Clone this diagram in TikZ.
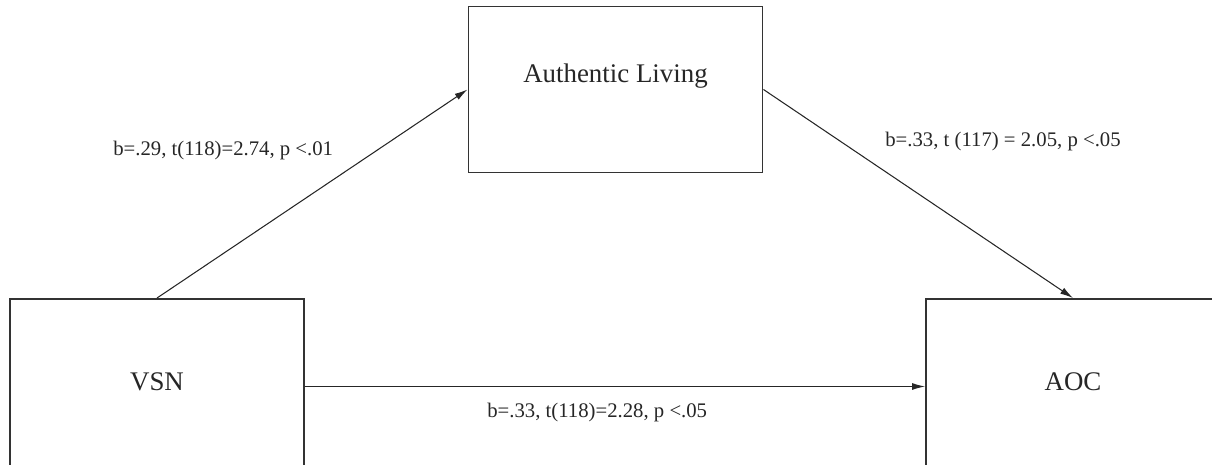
\documentclass[tikz,border=0pt]{standalone}
\usepackage{fontspec}
\setmainfont{Liberation Serif}
\usepackage{xcolor}
\usetikzlibrary{arrows.meta,positioning}

\begin{document}
\begin{tikzpicture}[
  >={Latex[length=2.6mm,width=1.4mm]},
  var/.style={
    rectangle, draw=black!80, line width=1.1pt, fill=white,
    minimum width=5.88cm, minimum height=3.32cm, inner sep=0pt,
    font=\fontsize{15.3}{18}\selectfont, text=black!85
  },
  coef/.style={anchor=base west, inner sep=0pt,
    font=\fontsize{11.8}{14}\selectfont, text=black!85},
  path/.style={->, line width=0.6pt, color=black!85}
]
\useasboundingbox (0,0) rectangle (24.24,9.3);

% mediator on top (label sits above the box centre)
\node[var, text height=0.4cm, text depth=0.68cm] (al) at (12.31,7.51) {Authentic Living};

% predictor and outcome (boxes run off the bottom edge)
\node[var, minimum height=3.5cm, text depth=0.18cm] (vsn) at (3.14,1.57) {VSN};
\node[var, minimum height=3.5cm, text depth=0.18cm] (aoc) at (21.46,1.57) {AOC};

% paths
\draw[path] (vsn.north) -- (al.west);
\draw[path] (al.east) -- (aoc.north);
\draw[path] (vsn.east) -- (aoc.west);

% coefficients
\node[coef] (c1) at (2.26,6.18) {b=.29, t(118)=2.74, p <.01};
\node[coef] (c2) at (17.70,6.36) {b=.33, t (117) = 2.05, p <.05};
\node[coef] (c3) at (9.74,0.94) {b=.33, t(118)=2.28, p <.05};

\end{tikzpicture}
\end{document}
